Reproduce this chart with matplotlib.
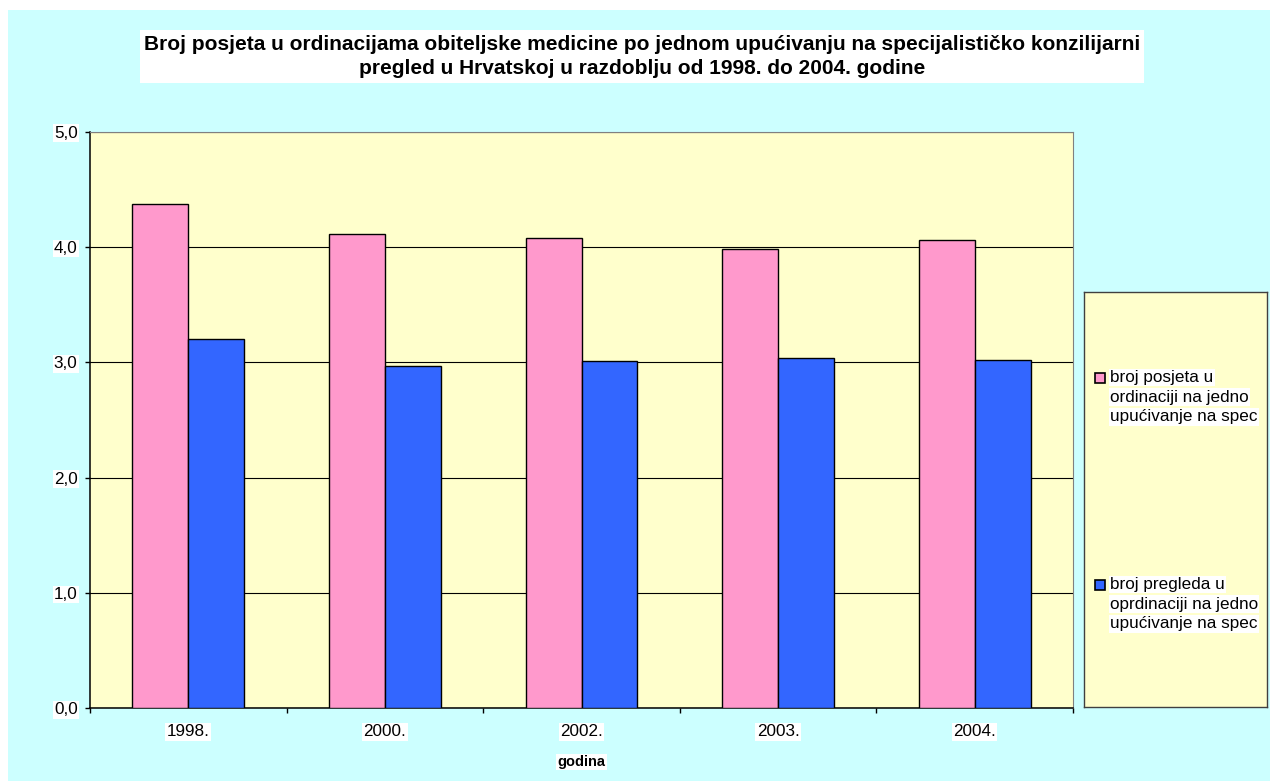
import matplotlib
matplotlib.use("Agg")
import matplotlib.pyplot as plt
import numpy as np
from matplotlib.patches import Rectangle

plt.rcParams['font.family'] = ['Liberation Sans', 'DejaVu Sans']

# ---- data ----
categories = ["1998.", "2000.", "2002.", "2003.", "2004."]
series_names = ["broj posjeta u\nordinaciji na jedno\nupućivanje na spec",
                "broj pregleda u\noprdinaciji na jedno\nupućivanje na spec"]
posjeti = [4.37, 4.11, 4.08, 3.98, 4.06]
pregledi = [3.20, 2.97, 3.01, 3.04, 3.02]
yticks = [0.0, 1.0, 2.0, 3.0, 4.0, 5.0]
ytick_labels = ["0,0", "1,0", "2,0", "3,0", "4,0", "5,0"]
title = ("Broj posjeta u ordinacijama obiteljske medicine po jednom upućivanju na specijalističko konzilijarni\n"
         "pregled u Hrvatskoj u razdoblju od 1998. do 2004. godine")
xlabel = "godina"
colors = ["#FF99CC", "#3366FF"]

W, H = 1270, 781
FS = 12.3
fig = plt.figure(figsize=(W / 100, H / 100), dpi=100, facecolor="white")
fig.patches.append(Rectangle((8 / W, 0), 1 - 8 / W, 1 - 10 / H, transform=fig.transFigure,
                             facecolor="#CCFFFF", edgecolor="none", zorder=-10))

ax = fig.add_axes([90 / W, 1 - 708.3 / H, (1073 - 90) / W, (708.3 - 131.7) / H])
ax.set_facecolor("#FFFFCC")

x = np.arange(len(categories))
bw = 0.284
ax.bar(x - bw / 2, posjeti, bw, color=colors[0], edgecolor="black", linewidth=1.0, zorder=3)
ax.bar(x + bw / 2, pregledi, bw, color=colors[1], edgecolor="black", linewidth=1.0, zorder=3)

ax.set_xlim(-0.5, len(categories) - 0.5)
ax.set_ylim(0, 5)
ax.set_yticks(yticks)
ax.set_yticklabels(ytick_labels)
ax.yaxis.grid(True, color="black", linewidth=0.8, zorder=1)
ax.set_axisbelow(True)

ax.set_xticks(np.arange(len(categories) + 1) - 0.5)
ax.set_xticklabels([])
ax.set_xticks(x, minor=True)
ax.set_xticklabels(categories, minor=True)
ax.tick_params(axis="x", which="major", direction="out", length=3.6, width=1)
ax.tick_params(axis="x", which="minor", length=0, pad=11.5, labelsize=FS)
ax.tick_params(axis="y", direction="out", length=3.6, width=1, pad=5.3, labelsize=FS)
for lab in ax.get_xticklabels(minor=True) + ax.get_yticklabels():
    lab.set_bbox(dict(facecolor="white", edgecolor="none", pad=1))

for s in ["top", "right"]:
    ax.spines[s].set_color("#808080")
for s in ["left", "bottom"]:
    ax.spines[s].set_color("black")
    ax.spines[s].set_linewidth(1.1)

fig.text((90 + 1073) / 2 / W, 1 - 762 / H, xlabel, ha="center", va="center",
         fontsize=10.5, fontweight="bold",
         bbox=dict(facecolor="white", edgecolor="none", pad=1))

fig.text(642 / W, 1 - 56.5 / H, title, ha="center", va="center", fontsize=15,
         fontweight="bold", linespacing=1.38,
         bbox=dict(facecolor="white", edgecolor="none", pad=3))

# legend box
lax = fig.add_axes([1084 / W, 1 - 707 / H, 183 / W, 415 / H])
lax.set_facecolor("#FFFFCC")
lax.set_xticks([])
lax.set_yticks([])
lax.set_xlim(0, 183)
lax.set_ylim(415, 0)
for s in lax.spines.values():
    s.set_color("#404040")
    s.set_linewidth(1)
entry_tops = [377.5 - 292, 584.5 - 292]
for name, col, yc in zip(series_names, colors, entry_tops):
    lax.add_patch(Rectangle((11, yc - 5), 10, 10, facecolor=col, edgecolor="black", linewidth=1.2))
    for i, line in enumerate(name.split("\n")):
        lax.text(26, yc + i * 19.7, line, ha="left", va="center", fontsize=FS,
                 bbox=dict(facecolor="white", edgecolor="none", pad=1))

fig.savefig("out.png", dpi=100, facecolor=fig.get_facecolor())
